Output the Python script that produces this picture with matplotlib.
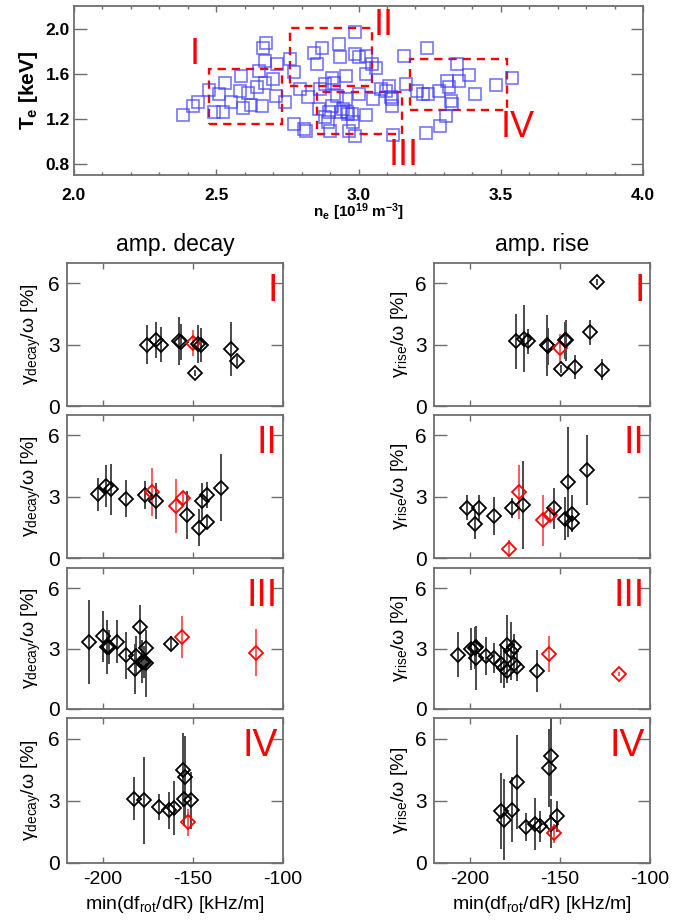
import matplotlib
matplotlib.use("Agg")
import matplotlib.pyplot as plt
from matplotlib.patches import Rectangle

plt.rcParams['font.family'] = ['Liberation Sans', 'DejaVu Sans']
plt.rcParams['mathtext.fontset'] = 'custom'
plt.rcParams['mathtext.rm'] = 'Liberation Sans'
plt.rcParams['mathtext.it'] = 'Liberation Sans:italic'
plt.rcParams['mathtext.bf'] = 'Liberation Sans:bold'

# ---------------- top panel data ----------------
ne = [2.383, 2.419, 2.435, 2.474, 2.493, 2.509, 2.524, 2.529, 2.552, 2.582,
      2.587, 2.595, 2.610, 2.622, 2.642, 2.649, 2.665, 2.662, 2.673, 2.673,
      2.700, 2.712, 2.676, 2.709, 2.743, 2.759, 2.775, 2.775, 2.793, 2.809,
      2.814, 2.822, 2.845, 2.853, 2.862, 2.865, 2.871, 2.881, 2.883, 2.892,
      2.897, 2.900, 2.908, 2.908, 2.915, 2.923, 2.931, 2.934, 2.938, 2.947,
      2.955, 2.955, 2.959, 2.962, 2.967, 2.978, 2.981, 2.986, 2.989, 2.989,
      3.002, 3.002, 3.025, 3.025, 3.028, 3.049, 3.052, 3.061, 3.080, 3.095,
      3.108, 3.114, 3.119, 3.119, 3.122, 3.161, 3.166, 3.205, 3.225, 3.236,
      3.241, 3.244, 3.283, 3.286, 3.307, 3.311, 3.319, 3.325, 3.327, 3.346,
      3.354, 3.388, 3.408, 3.482, 3.541]
Te = [1.231, 1.308, 1.344, 1.456, 1.261, 1.418, 1.261, 1.515, 1.344, 1.447,
      1.580, 1.291, 1.432, 1.320, 1.477, 1.625, 1.823, 1.314, 1.713, 1.521,
      1.551, 1.684, 1.876, 1.403, 1.344, 1.728, 1.610, 1.152, 1.462, 1.107,
      1.093, 1.388, 1.787, 1.684, 1.285, 1.462, 1.831, 1.211, 1.506, 1.166,
      1.255, 1.093, 1.565, 1.314, 1.521, 1.403, 1.861, 1.743, 1.255, 1.285,
      1.580, 1.373, 1.255, 1.240, 1.093, 1.240, 1.166, 1.772, 1.042, 1.965,
      1.418, 1.743, 1.758, 1.595, 1.231, 1.684, 1.373, 1.654, 1.462, 1.447,
      1.491, 1.388, 1.314, 1.373, 1.054, 1.758, 1.506, 1.447, 1.418, 1.072,
      1.823, 1.418, 1.447, 1.137, 1.226, 1.536, 1.477, 1.358, 1.329, 1.684,
      1.536, 1.586, 1.418, 1.497, 1.565]

# region boxes: (ne_min, ne_max, Te_min, Te_max)
regions = ['I', 'II', 'III', 'IV']
box_ne_min = [2.473, 2.759, 2.853, 3.181]
box_ne_max = [2.732, 3.049, 3.153, 3.521]
box_te_min = [1.152, 1.486, 1.063, 1.276]
box_te_max = [1.645, 2.009, 1.438, 1.728]
lab_ne = [2.423, 3.090, 3.158, 3.560]
lab_te = [1.770, 2.027, 0.874, 1.122]

# ---------------- lower panels data ----------------
decay = {
 'I': dict(
    x=[-175.5, -170.4, -168.0, -157.8, -156.9, -149.8, -147.0, -145.7, -148.9, -129.0, -125.3],
    y=[3.00, 3.21, 3.00, 3.19, 3.13, 3.08, 3.03, 3.00, 1.62, 2.81, 2.19],
    e=[0.95, 0.88, 0.85, 1.16, 0.90, 0.62, 0.93, 0.83, 0.15, 1.32, 0.25],
    r=[0, 0, 0, 0, 0, 1, 0, 0, 0, 0, 0]),
 'II': dict(
    x=[-202.8, -198.1, -195.4, -187.0, -176.8, -172.7, -170.4, -159.3, -155.6, -153.2, -146.7, -145.2, -142.4, -142.4, -134.2],
    y=[3.11, 3.52, 3.36, 2.90, 3.08, 3.23, 2.79, 2.54, 2.95, 2.09, 1.48, 2.79, 3.07, 1.78, 3.44],
    e=[0.80, 1.03, 1.26, 0.90, 0.68, 1.16, 0.90, 1.31, 0.33, 1.18, 0.90, 0.86, 0.64, 0.33, 1.63],
    r=[0, 0, 0, 0, 0, 1, 0, 1, 1, 0, 0, 0, 0, 0, 0]),
 'III': dict(
    x=[-208.0, -200.2, -197.8, -196.8, -192.2, -187.5, -182.5, -181.9, -179.5, -178.6, -177.3, -176.0, -176.0, -162.5, -155.9, -115.1],
    y=[3.33, 3.61, 3.08, 3.08, 3.33, 2.67, 1.98, 2.64, 4.07, 2.34, 2.34, 2.26, 3.05, 3.25, 3.58, 2.80],
    e=[2.10, 1.27, 1.34, 0.84, 1.07, 1.17, 1.23, 1.00, 1.10, 1.07, 0.80, 1.65, 0.87, 0.36, 1.05, 1.15],
    r=[0, 0, 0, 0, 0, 0, 0, 0, 0, 0, 0, 0, 0, 0, 1, 1]),
 'IV': dict(
    x=[-182.9, -177.0, -169.0, -163.4, -160.7, -155.6, -154.7, -155.0, -151.1, -152.8],
    y=[3.11, 3.03, 2.71, 2.54, 2.66, 4.50, 4.17, 3.11, 3.03, 1.97],
    e=[1.02, 2.10, 0.64, 0.88, 1.30, 1.80, 1.94, 1.30, 1.38, 0.65],
    r=[0, 0, 0, 0, 0, 0, 0, 0, 0, 1]),
}
rise = {
 'I': dict(
    x=[-174.7, -170.0, -167.8, -157.3, -156.5, -150.0, -149.3, -147.3, -146.5, -141.8, -133.6, -129.3, -126.4],
    y=[3.16, 3.29, 3.16, 2.97, 2.92, 2.84, 1.82, 3.21, 3.21, 1.91, 3.60, 6.08, 1.78],
    e=[1.35, 1.64, 0.63, 1.50, 0.90, 0.70, 0.20, 0.92, 1.00, 0.60, 0.60, 0.15, 0.50],
    r=[0, 0, 0, 0, 0, 1, 0, 0, 0, 0, 0, 0, 0]),
 'II': dict(
    x=[-201.8, -197.3, -195.1, -186.7, -178.2, -176.4, -172.7, -170.4, -159.5, -155.8, -153.6, -147.3, -145.5, -143.6, -143.1, -134.9],
    y=[2.46, 1.68, 2.43, 2.05, 0.46, 2.46, 3.23, 2.58, 1.84, 2.09, 2.43, 1.92, 3.72, 1.73, 2.17, 4.29],
    e=[0.60, 0.73, 0.63, 0.92, 0.40, 0.50, 1.34, 2.16, 1.26, 0.30, 1.00, 1.06, 2.70, 0.33, 0.90, 1.72],
    r=[0, 0, 0, 0, 1, 0, 1, 0, 1, 1, 0, 0, 0, 0, 0, 0]),
 'III': dict(
    x=[-206.9, -199.3, -197.5, -196.4, -196.4, -191.0, -186.5, -182.9, -181.2, -179.4, -179.4, -177.4, -175.6, -175.6, -174.0, -162.6, -156.3, -117.0],
    y=[2.70, 2.97, 3.03, 3.08, 2.54, 2.62, 2.54, 2.21, 2.02, 3.20, 1.89, 2.87, 3.08, 2.23, 2.07, 1.89, 2.75, 1.72],
    e=[1.10, 1.04, 1.05, 0.75, 1.60, 0.94, 0.74, 0.93, 1.00, 1.48, 0.60, 1.43, 0.66, 0.45, 0.70, 1.04, 0.89, 0.10],
    r=[0, 0, 0, 0, 0, 0, 0, 0, 0, 0, 0, 0, 0, 0, 0, 0, 1, 1]),
 'IV': dict(
    x=[-182.7, -180.9, -176.9, -174.0, -169.1, -164.0, -160.9, -156.0, -154.9, -155.1, -151.8, -153.1],
    y=[2.51, 2.10, 2.58, 3.90, 1.73, 1.89, 1.77, 4.58, 5.15, 1.89, 2.25, 1.43],
    e=[1.82, 1.94, 1.57, 2.28, 0.69, 1.26, 0.75, 1.90, 1.93, 1.18, 0.75, 0.45],
    r=[0, 0, 0, 0, 0, 0, 0, 0, 0, 0, 0, 1]),
}

xticks_low = [-200, -150, -100]
yticks_low = [0, 3, 6]
col_titles = ['amp. decay', 'amp. rise']
ylabels = ['γ$_{\\rm decay}$/ω [%]', 'γ$_{\\rm rise}$/ω [%]']
xlabel_low = 'min(df$_{\\rm rot}$/dR) [kHz/m]'

W, H = 699, 924
fig = plt.figure(figsize=(W / 100, H / 100), dpi=100)
fig.patch.set_facecolor('white')

def px_axes(l, t, r, b):
    return fig.add_axes([l / W, 1 - b / H, (r - l) / W, (b - t) / H])

SPC = '#6e6e6e'

def style(ax):
    for s in ax.spines.values():
        s.set_color(SPC)
        s.set_linewidth(1.3)
    ax.tick_params(which='both', direction='in', top=True, right=True, color=SPC)

# ---------------- top panel ----------------
ax0 = px_axes(74, 6, 643, 175)
style(ax0)
ax0.plot(ne, Te, linestyle='none', marker='s', markersize=8.5, markerfacecolor='none',
         markeredgecolor='#3c3cff', markeredgewidth=1.2, alpha=0.7)
for i, name in enumerate(regions):
    ax0.add_patch(Rectangle((box_ne_min[i], box_te_min[i]),
                            box_ne_max[i] - box_ne_min[i], box_te_max[i] - box_te_min[i],
                            fill=False, edgecolor='red', linestyle=(0, (3.5, 2.5)), linewidth=1.7))
    ax0.text(lab_ne[i], lab_te[i], name, color='red', fontsize=26, ha='center', va='center')
ax0.set_xlim(2.0, 4.0)
ax0.set_ylim(0.7, 2.2)
ax0.set_xticks([2.0, 2.5, 3.0, 3.5, 4.0])
ax0.set_xticks([2.0 + 0.1 * k for k in range(21)], minor=True)
ax0.set_yticks([0.8, 1.2, 1.6, 2.0])
ax0.tick_params(axis='x', which='major', length=4, width=1, pad=9)
ax0.tick_params(axis='x', which='minor', length=2.5, width=1)
ax0.tick_params(axis='y', which='major', length=9, width=1, pad=3)
ax0.set_xticklabels(['2.0', '2.5', '3.0', '3.5', '4.0'], fontweight='bold', fontsize=12.5)
ax0.set_yticklabels(['0.8', '1.2', '1.6', '2.0'], fontweight='bold', fontsize=12.5)
ax0.set_xlabel('n$_{\\mathbf{e}}$ [10$^{\\mathbf{19}}$ m$^{\\mathbf{-3}}$]', fontweight='bold',
               fontsize=11, labelpad=-1)
ax0.set_ylabel('T$_{\\mathbf{e}}$ [keV]', fontweight='bold', fontsize=15, labelpad=4)

# ---------------- lower panels ----------------
rows = [(263, 406), (415, 558), (568, 709), (718, 863)]
cols = [(67, 283), (434, 650)]
datasets = [decay, rise]

for c, (l, r) in enumerate(cols):
    for k, name in enumerate(regions):
        t, b = rows[k]
        ax = px_axes(l, t, r, b)
        style(ax)
        d = datasets[c][name]
        for xi, yi, ei, ri in zip(d['x'], d['y'], d['e'], d['r']):
            ecol = '#ff5a5a' if ri else '#4a4a4a'
            mcol = 'red' if ri else 'black'
            ax.errorbar([xi], [yi], yerr=[ei], fmt='none', ecolor=ecol, elinewidth=1.4,
                        capsize=0, zorder=2)
            ax.plot([xi], [yi], linestyle='none', marker='D', markersize=7,
                    markerfacecolor='none', markeredgecolor=mcol, markeredgewidth=1.3, zorder=3)
        ax.set_xlim(-220, -100)
        ax.set_ylim(0, 7)
        ax.set_xticks(xticks_low)
        ax.set_yticks(yticks_low)
        ax.tick_params(axis='y', which='major', length=9, width=1, labelsize=15, pad=5)
        ax.tick_params(axis='x', which='major', length=4, width=1, labelsize=14, pad=6)
        if k < 3:
            ax.set_xticklabels([])
        else:
            ax.set_xticklabels(['-200', '-150', '-100'])
            ax.set_xlabel(xlabel_low, fontsize=14, labelpad=4)
        ax.set_ylabel(ylabels[c], fontsize=14, labelpad=4)
        ax.text(0.975, 0.93, name, transform=ax.transAxes, color='red', fontsize=27,
                ha='right', va='top')
        if k == 0:
            ax.set_title(col_titles[c], fontsize=16.5, pad=9)

fig.savefig('out.png', dpi=100)
